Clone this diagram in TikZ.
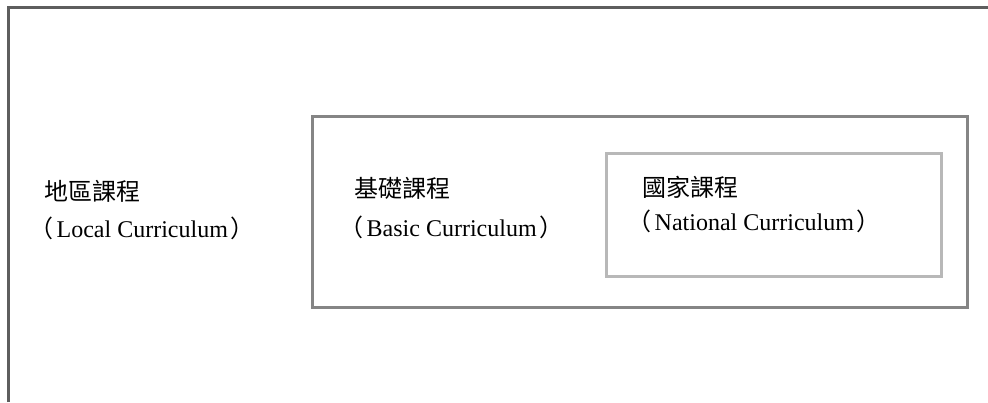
\documentclass[tikz,border=0pt]{standalone}
\usepackage{fontspec}
\setmainfont{Liberation Serif}
\newfontfamily\cjk{Noto Sans CJK TC}
\definecolor{outerc}{HTML}{5E5E5E}
\definecolor{midc}{HTML}{858585}
\definecolor{innc}{HTML}{B8B8B8}
\newcommand{\lp}{{\cjk\hspace*{-0.6em}（\hspace{0.12em}}}
\newcommand{\rp}{{\cjk\hspace{0.12em}）}}
\begin{document}
\begin{tikzpicture}[x=1pt,y=-1pt,
  lbl/.style={anchor=base west,inner sep=0pt,font=\fontsize{24}{28}\selectfont},
  zh/.style={lbl,font=\fontsize{24}{28}\selectfont\cjk}]
\useasboundingbox (0,0) rectangle (988,402);
\coordinate (obl) at (8,402);
\coordinate (otl) at (8,7);
\coordinate (otr) at (988,7);
\draw[outerc,line width=3pt] (obl) -- (otl) -- (otr);
\node[draw=midc,line width=2.6pt,inner sep=0pt,minimum width=655pt,minimum height=191pt,anchor=north west] (basic) at (311,115) {};
\node[draw=innc,line width=2.6pt,inner sep=0pt,minimum width=335pt,minimum height=123pt,anchor=north west] (nat) at (605,152) {};
\node[zh] (loczh) at (44,200) {地區課程};
\node[lbl] (locen) at (44,237) {\lp Local Curriculum\rp};
\node[zh] (baszh) at (354,197) {基礎課程};
\node[lbl] (basen) at (354,236) {\lp Basic Curriculum\rp};
\node[zh] (natzh) at (642,196) {國家課程};
\node[lbl] (naten) at (642,230) {\lp National Curriculum\rp};
\end{tikzpicture}
\end{document}
